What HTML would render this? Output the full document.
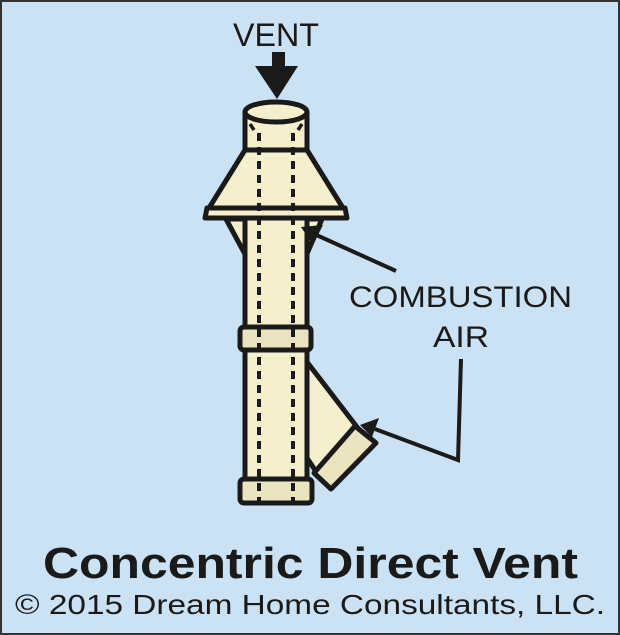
<!DOCTYPE html>
<html><head><style>
html,body{margin:0;padding:0;background:#cbe2f5;}
svg{display:block;}
text{font-family:"Liberation Sans",Arial,sans-serif;fill:#1a1a1a;}
</style></head><body>
<svg width="620" height="635" viewBox="0 0 620 635" xmlns="http://www.w3.org/2000/svg">
<rect x="1" y="1" width="618" height="633" fill="#cbe2f5" stroke="#333" stroke-width="2"/>
<text x="233" y="46" font-size="32" textLength="86" lengthAdjust="spacingAndGlyphs">VENT</text>
<rect x="272" y="52" width="13" height="16" fill="#1a1a1a"/>
<polygon points="255,66 298,66 277,99" fill="#1a1a1a"/>
<g stroke="#1a1a1a" stroke-width="5" stroke-linejoin="round" fill="#f4efcd">
<polygon points="226,219 246,219 246,256"/>
<polygon points="322,219 306,219 306,256"/>
<rect x="245" y="215" width="62" height="268"/>
<polygon points="307,362 357,427 317,473 307,458"/>
<polygon points="245,150 307,150 343,208 209,208"/>
<path d="M207,208 L345,208 L347,218 L205,218 Z"/>
<rect x="245" y="112" width="62" height="38"/>
<ellipse cx="276" cy="112" rx="31" ry="10"/>
</g>
<g stroke="#1a1a1a" stroke-width="5" stroke-linejoin="round" fill="#e9e3c0">
<rect x="240" y="327" width="71" height="23" rx="4"/>
<rect x="240" y="479" width="72" height="24" rx="4"/>
<polygon points="355,426 376,443 331,489 314,473"/>
</g>
<g stroke="#1a1a1a" stroke-width="4" stroke-dasharray="8,6" fill="none">
<line x1="259" y1="133" x2="259" y2="502"/>
<line x1="293" y1="133" x2="293" y2="502"/>
</g>
<g stroke="#1a1a1a" stroke-width="3.5" fill="none">
<line x1="250" y1="124" x2="254" y2="130"/>
<line x1="302" y1="124" x2="298" y2="130"/>
</g>
<g stroke="#1a1a1a" stroke-width="4" fill="none">
<line x1="396" y1="271" x2="312" y2="233"/>
<polyline points="461,359 458,460 375,429"/>
</g>
<polygon points="301,227 323,225 313,245" fill="#1a1a1a"/>
<polygon points="360,425 379,418 372,437" fill="#1a1a1a"/>
<text x="349" y="307" font-size="30" textLength="223" lengthAdjust="spacingAndGlyphs">COMBUSTION</text>
<text x="433" y="347" font-size="30" textLength="56" lengthAdjust="spacingAndGlyphs">AIR</text>
<text x="43" y="578" font-size="44" font-weight="bold" textLength="535" lengthAdjust="spacingAndGlyphs">Concentric Direct Vent</text>
<text x="15" y="614" font-size="28" textLength="590" lengthAdjust="spacingAndGlyphs">© 2015 Dream Home Consultants, LLC.</text>
</svg>
</body></html>
